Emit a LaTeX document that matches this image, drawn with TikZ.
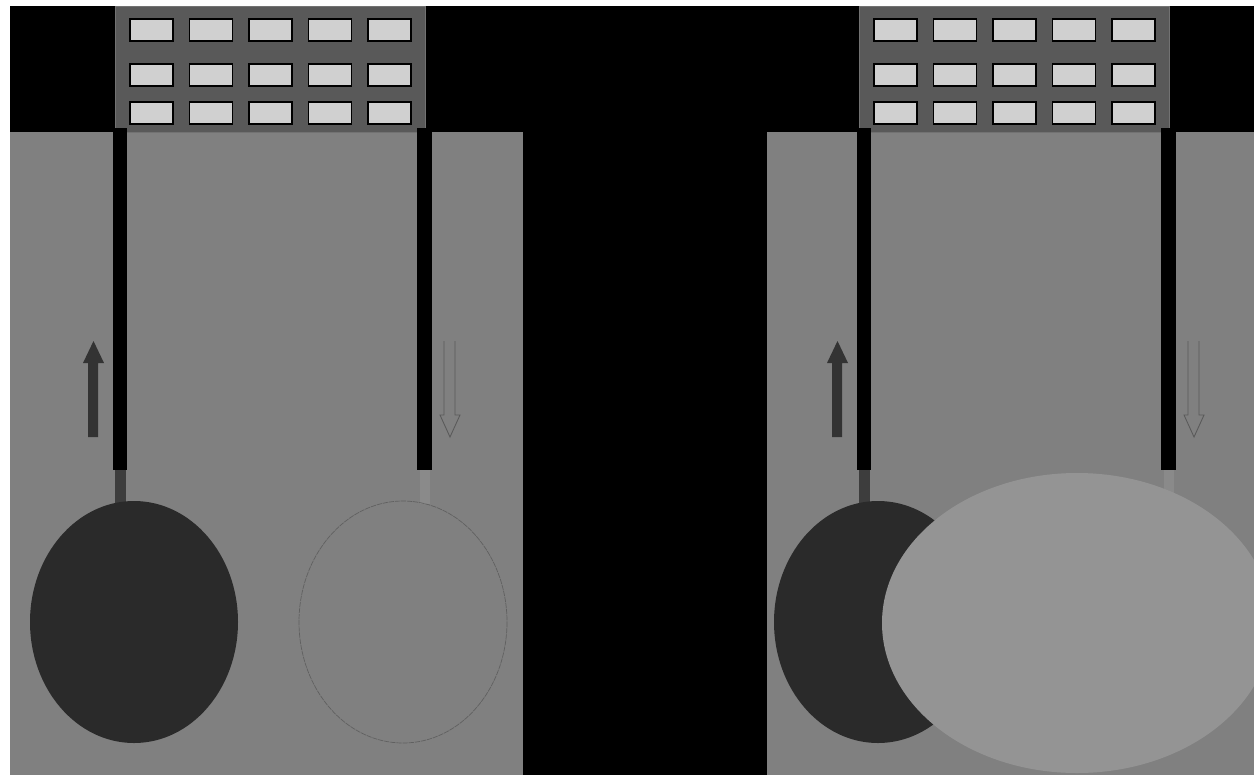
\documentclass[tikz,border=0pt]{standalone}
\usepackage{tikz}
\usetikzlibrary{calc}
\definecolor{panelgray}{HTML}{808080}
\definecolor{housegray}{HTML}{595959}
\definecolor{panegray}{HTML}{D0D0D0}
\definecolor{balldark}{HTML}{2A2A2A}
\definecolor{balllight}{HTML}{949494}
\definecolor{stubdark}{HTML}{3D3D3D}
\definecolor{stublight}{HTML}{8A8A8A}
\begin{document}
\begin{tikzpicture}[
        x=0.02cm, y=-0.02cm,
        panel/.style={fill=panelgray},
        house/.style={fill=housegray, draw=housegray!85!white, line width=0.5pt},
        pane/.style={fill=panegray, draw=black, line width=1.1pt},
        pipe/.style={fill=black},
        uparrow/.style={fill=black!80},
        downarrow/.style={draw=black!30!panelgray, line width=0.5pt},
        ringball/.style={draw=black!25!panelgray, line width=0.4pt, dash pattern=on 3pt off 0.5pt}
    ]
        \useasboundingbox (0,0) rectangle (1254,775);
        \clip (0,0) rectangle (1254,775);
        \fill[white] (0,0) rectangle (1254,775);
        \fill[black] (10,6) rectangle (1254,775);

        % the two gray panels
        \fill[panel] (10,132) rectangle (523,775);
        \fill[panel] (767,132) rectangle (1254,775);

        \foreach \dx in {0,744} {
            \begin{scope}[shift={(\dx,0)}]
                \draw[house] (115,6) rectangle (425,132);
                \foreach \r in {19,64,102}
                    \foreach \c in {0,...,4}
                        \draw[pane] ({130+59.5*\c},\r) rectangle ++(43,22);
                \fill[stubdark] (115,470) rectangle (126,504);
                \fill[stublight] (420,470) rectangle (430,504);
                \fill[pipe] (113,128) rectangle (127,470);
                \fill[pipe] (417,128) rectangle (432,470);
                \fill[uparrow] (88,437) -- (88,363) -- (83,363) -- (93.5,341)
                    -- (104,363) -- (98,363) -- (98,437) -- cycle;
                \draw[downarrow] (444,341) -- (444,415) -- (440,415) -- (450,437)
                    -- (460,415) -- (455,415) -- (455,341);
                \fill[balldark] (134,622) ellipse [x radius=104, y radius=121];
            \end{scope}
        }

        \draw[ringball] (403,622) ellipse [x radius=104, y radius=121];
        \fill[balllight] (1077,623) ellipse [x radius=195, y radius=150];
    \end{tikzpicture}
\end{document}
